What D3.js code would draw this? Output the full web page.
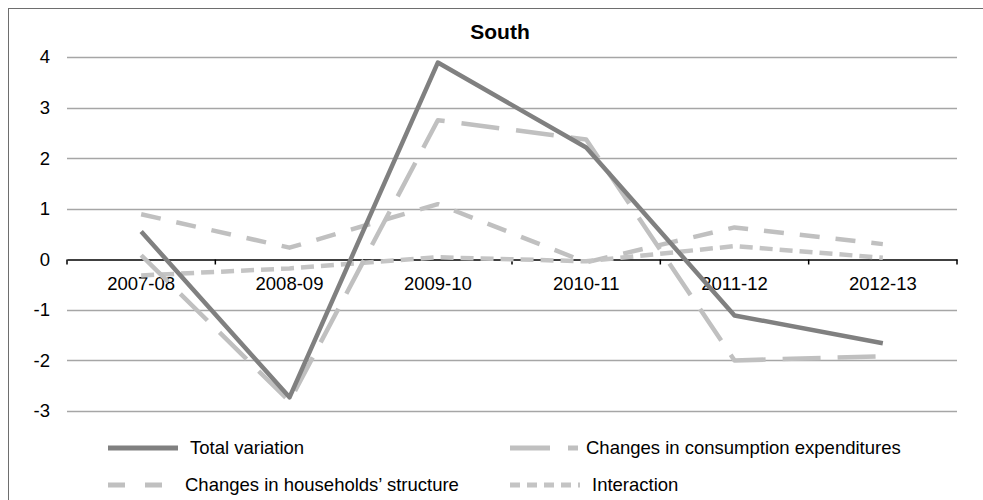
<!DOCTYPE html>
<html>
<head>
<meta charset="utf-8">
<script src="https://cdn.jsdelivr.net/npm/d3@7"></script>
<style>
  html, body { margin: 0; padding: 0; background: #fff; }
  svg { display: block; font-family: "Liberation Sans", Arial, sans-serif; }
</style>
</head>
<body>
<svg id="chart" width="983" height="500"></svg>
<script>
const categories = ["2007-08", "2008-09", "2009-10", "2010-11", "2011-12", "2012-13"];
const totalVariation = [0.55, -2.73, 3.89, 2.21, -1.11, -1.66];
const consumptionChanges = [0.08, -2.81, 2.75, 2.37, -2.0, -1.92];
const householdChanges = [0.89, 0.23, 1.09, -0.06, 0.63, 0.30];
const interaction = [-0.32, -0.18, 0.04, -0.04, 0.26, 0.03];
const yTicks = [-3, -2, -1, 0, 1, 2, 3, 4];

const series = [
  { name: "Total variation", values: totalVariation, color: "#808080", dash: null, legendDash: null },
  { name: "Changes in consumption expenditures", values: consumptionChanges, color: "#c0c0c0", dash: "38,17", legendDash: "40,18" },
  { name: "Changes in households\u2019 structure", values: householdChanges, color: "#c0c0c0", dash: "20,16", legendDash: "17,20" },
  { name: "Interaction", values: interaction, color: "#c4c4c4", dash: "13,7", legendDash: "10,7" }
];

const svg = d3.select("#chart");
const plotLeft = 67, plotRight = 957, plotTop = 57, plotBottom = 411;
const labelSize = 18.5;

// outer frame (extends past the right and bottom edges)
svg.append("rect")
  .attr("x", 8.5).attr("y", 8.5)
  .attr("width", 1000).attr("height", 600)
  .attr("fill", "none").attr("stroke", "#6e6e6e").attr("stroke-width", 1);

const x = d3.scaleBand().domain(categories).range([plotLeft, plotRight]);
const y = d3.scaleLinear().domain([-3, 4]).range([plotBottom, plotTop]);

// title
svg.append("text")
  .attr("x", 500).attr("y", 39)
  .attr("text-anchor", "middle")
  .attr("font-size", 21).attr("font-weight", "bold")
  .text("South");

// horizontal gridlines
svg.append("g")
  .selectAll("line")
  .data(yTicks.filter(d => d !== 0))
  .join("line")
  .attr("x1", plotLeft).attr("x2", plotRight)
  .attr("y1", d => Math.round(y(d)) + 0.5).attr("y2", d => Math.round(y(d)) + 0.5)
  .attr("stroke", "#a6a6a6").attr("stroke-width", 1.5);

// y axis labels (plain hyphen for negatives)
const yAxis = d3.axisLeft(y).tickValues(yTicks).tickSize(0).tickPadding(17)
  .tickFormat(d => String(d));
const yg = svg.append("g").attr("transform", `translate(${plotLeft},0)`).call(yAxis);
yg.select(".domain").remove();
yg.attr("font-size", null).attr("font-family", null);
yg.selectAll("text").attr("font-size", labelSize).attr("fill", "#000");

// category axis on zero line
const xAxis = d3.axisBottom(x).tickSize(0).tickPadding(17);
const xg = svg.append("g").attr("transform", `translate(0,${Math.round(y(0)) + 0.5})`).call(xAxis);
xg.attr("font-size", null).attr("font-family", null);
xg.select(".domain").attr("stroke", "#000").attr("stroke-width", 1.5);
xg.selectAll("text").attr("font-size", labelSize).attr("fill", "#000");

// boundary tick marks between categories
const boundaries = categories.map(c => x(c)).concat([x(categories[categories.length - 1]) + x.bandwidth()]);
xg.selectAll("line.bound")
  .data(boundaries)
  .join("line")
  .attr("class", "bound")
  .attr("x1", d => d).attr("x2", d => d)
  .attr("y1", 0).attr("y2", 5)
  .attr("stroke", "#000").attr("stroke-width", 1.5);

// series lines (total variation on top)
const line = d3.line()
  .x((d, i) => x(categories[i]) + x.bandwidth() / 2)
  .y(d => y(d));

const drawOrder = [series[2], series[3], series[1], series[0]];
svg.append("g")
  .selectAll("path")
  .data(drawOrder)
  .join("path")
  .attr("d", s => line(s.values))
  .attr("fill", "none")
  .attr("stroke", s => s.color)
  .attr("stroke-width", 4.5)
  .attr("stroke-dasharray", s => s.dash)
  .attr("stroke-linejoin", "round");

// legend
const legendItems = [
  { s: series[0], lx: 108, lw: 70, tx: 190, ty: 448 },
  { s: series[1], lx: 510, lw: 68, tx: 586, ty: 448 },
  { s: series[2], lx: 108, lw: 57, tx: 185, ty: 485 },
  { s: series[3], lx: 510, lw: 70, tx: 592, ty: 485 }
];
const lg = svg.append("g").selectAll("g").data(legendItems).join("g");
lg.append("line")
  .attr("x1", d => d.lx).attr("x2", d => d.lx + d.lw)
  .attr("y1", d => d.ty).attr("y2", d => d.ty)
  .attr("stroke", d => d.s.color)
  .attr("stroke-width", 5)
  .attr("stroke-dasharray", d => d.s.legendDash);
lg.append("text")
  .attr("x", d => d.tx).attr("y", d => d.ty)
  .attr("dy", "0.35em")
  .attr("font-size", labelSize)
  .text(d => d.s.name);
</script>
</body>
</html>
